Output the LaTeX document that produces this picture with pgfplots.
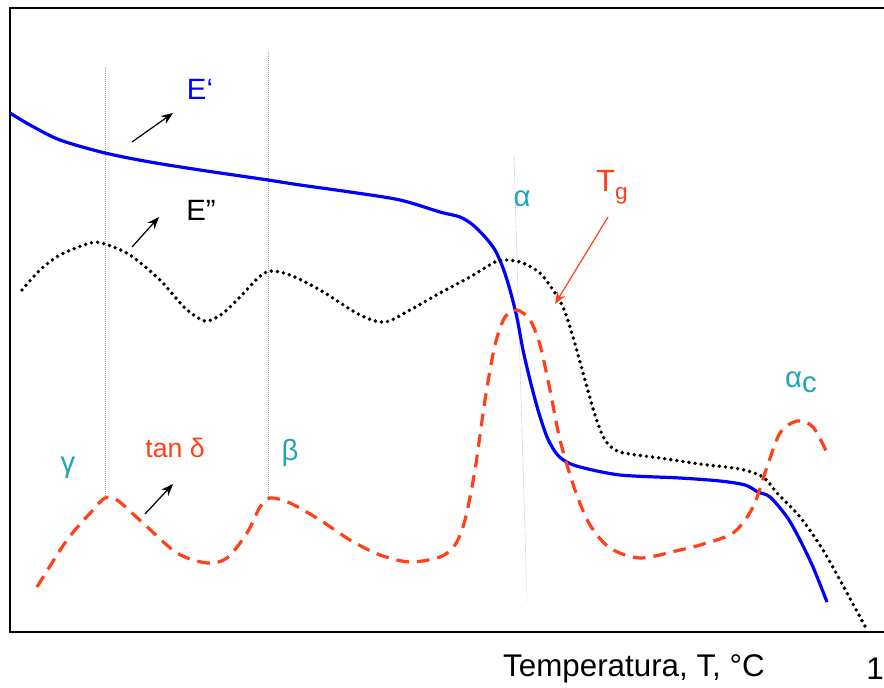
\documentclass[border=0pt]{standalone}
\usepackage{fontspec}
\setmainfont{Liberation Sans}
\usepackage{pgfplots}
\pgfplotsset{compat=1.18}
\usetikzlibrary{arrows.meta}
\definecolor{eblue}{RGB}{0,0,255}
\definecolor{tred}{RGB}{255,64,24}
\definecolor{teal2}{RGB}{35,165,180}
\begin{document}
\begin{tikzpicture}
\begin{axis}[
  x=0.75pt, y=0.75pt, scale only axis,
  xmin=0, xmax=884, ymin=-53, ymax=632,
  hide axis, clip=false,
]
\path (axis cs:0,-53) rectangle (axis cs:884,632);
% frame (right side lies beyond the picture)
\draw[line width=1.8pt, overlay] (axis cs:900,0) -- (axis cs:10,0) -- (axis cs:10,624) -- (axis cs:900,624);
% thin grey guide lines
\addplot[gray!70, densely dotted, line width=0.5pt] coordinates {(105,565) (105,134)};
\addplot[gray!70, densely dotted, line width=0.5pt] coordinates {(268,580) (268,135)};
\addplot[gray!70, densely dotted, line width=0.5pt] coordinates {(514,475) (527,30)};
% E' (blue)
\addplot[eblue, line width=2.4pt, smooth, tension=0.5] coordinates {
(10,519) (30,507) (60,492) (105,479) (150,470) (200,462) (268,452) (300,447)
(350,440) (400,432) (440,420) (460,415) (473,407) (485,395) (495,382) (503,364)
(510,342) (517,314) (523,282) (530,252) (538,222) (547,195) (556,179) (565,171)
(580,165) (620,157) (680,154) (720,151) (745,147) (758,140) (770,135) (787,115)
(800,92) (813,65) (827,30)};
% E'' (black dotted)
\addplot[black, line width=2.9pt, dash pattern=on 0pt off 4.6pt, line cap=round, smooth, tension=0.5] coordinates {
(22,342) (40,362) (60,377) (90,389) (105,388) (130,377) (160,352) (185,324)
(205,311) (222,318) (240,335) (258,354) (270,361) (290,357) (320,342) (360,317)
(385,310) (410,322) (440,339) (470,355) (495,370) (507,372) (523,369) (540,359)
(553,342) (563,325) (573,295) (585,252) (595,217) (605,192) (620,180) (660,174)
(700,168) (740,163) (763,155) (777,139) (800,115) (823,82) (847,39) (867,2)};
% tan delta (red dashed)
\addplot[tred, line width=2.4pt, dash pattern=on 9.5pt off 6pt, smooth, tension=0.5] coordinates {
(37,45) (67,92) (93,122) (105,134) (117,132) (143,109) (177,79) (207,69)
(227,74) (247,99) (260,125) (270,134) (290,129) (320,112) (350,92) (380,77)
(410,70) (440,75) (455,87) (465,112) (475,162) (485,232) (495,287) (505,315)
(517,322) (530,312) (540,287) (550,242) (560,192) (575,142) (590,107) (610,84)
(640,74) (680,82) (700,87) (733,99) (753,125) (767,165) (780,199) (797,211)
(813,205) (827,179)};
% arrows
\draw[-{Stealth[length=9pt,width=7pt]}, line width=0.9pt] (axis cs:132,490) -- (axis cs:173,519);
\draw[-{Stealth[length=9pt,width=7pt]}, line width=0.9pt] (axis cs:132,385) -- (axis cs:159,415);
\draw[-{Stealth[length=9pt,width=7pt]}, line width=0.9pt] (axis cs:145,118) -- (axis cs:173,148);
\draw[tred, -{Stealth[length=9pt,width=7pt]}, line width=0.9pt] (axis cs:608,415) -- (axis cs:555,328);
% labels
\node[eblue, font=\fontsize{22}{26}\selectfont] at (axis cs:200,543) {E\symbol{96}};
\node[black, font=\fontsize{22}{26}\selectfont] at (axis cs:201,422) {E”};
\node[tred, font=\fontsize{20}{24}\selectfont] at (axis cs:175,184) {tan δ};
\node[teal2, font=\fontsize{22}{26}\selectfont] at (axis cs:68,164) {γ};
\node[teal2, font=\fontsize{22}{26}\selectfont] at (axis cs:290,179) {β};
\node[teal2, font=\fontsize{22}{26}\selectfont] at (axis cs:522,433) {α};
\node[teal2, font=\fontsize{22}{26}\selectfont] at (axis cs:801,250) {α\raisebox{-0.35ex}{c}};
\node[tred, font=\fontsize{23}{26}\selectfont] at (axis cs:612,445) {T\raisebox{-0.5ex}{\fontsize{17}{20}\selectfont g}};
\node[black, font=\fontsize{23.5}{27}\selectfont] at (axis cs:634,-37) {Temperatura, T, °C};
\node[black, font=\fontsize{23.5}{27}\selectfont, anchor=east, inner sep=0pt] at (axis cs:884,-37) {1};
\end{axis}
\end{tikzpicture}
\end{document}
